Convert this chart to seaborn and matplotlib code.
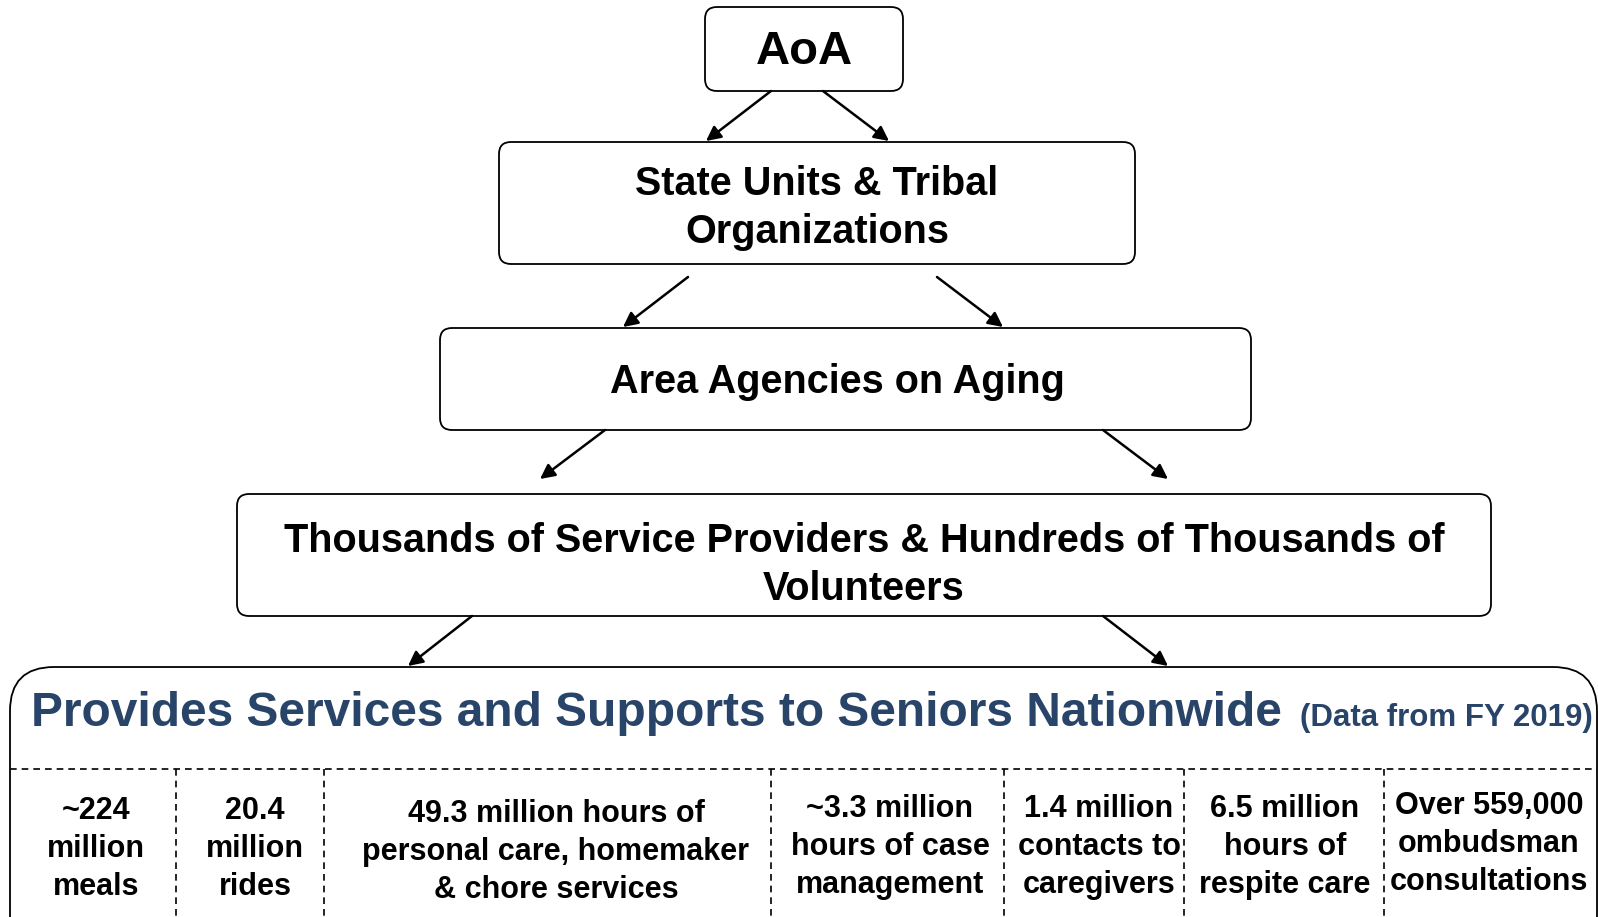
import matplotlib
matplotlib.use("Agg")
import matplotlib.pyplot as plt
import seaborn as sns
from matplotlib.patches import FancyBboxPatch

# 层级结构文字
box_labels = [
    "AoA",
    "State Units & Tribal\nOrganizations",
    "Area Agencies on Aging",
    "Thousands of Service Providers & Hundreds of Thousands of\nVolunteers",
]
title_main = "Provides Services and Supports to Seniors Nationwide"
title_note = "(Data from FY 2019)"

# 服务数据（FY 2019）
service_labels = [
    "~224\nmillion\nmeals",
    "20.4\nmillion\nrides",
    "49.3 million hours of\npersonal care, homemaker\n& chore services",
    "~3.3 million\nhours of case\nmanagement",
    "1.4 million\ncontacts to\ncaregivers",
    "6.5 million\nhours of\nrespite care",
    "Over 559,000\nombudsman\nconsultations",
]

# 布局（像素坐标，y 向下）
boxes = [  # x0, y0, x1, y1
    (705, 7, 903, 91),
    (499, 142, 1135, 264),
    (440, 328, 1251, 430),
    (237, 494, 1491, 616),
]
box_fs = [34, 28.5, 28.5, 28.5]
box_text_pos = [(804, 52), (817, 208), (837, 382), (864, 565)]
arrows = [  # 起点 -> 终点
    ((771, 91), (706, 141)), ((823, 91), (889, 141)),
    ((688, 277), (623, 327)), ((937, 277), (1003, 327)),
    ((605, 430), (540, 479)), ((1103, 430), (1168, 479)),
    ((472, 616), (408, 666)), ((1103, 616), (1168, 666)),
]
col_edges = [10, 176, 324, 771, 1004, 1184, 1384, 1597]
cell_centers = [96, 255, 556, 890, 1099, 1285, 1489]
cell_y = [849, 849, 852, 847, 847, 847, 844]

sns.set_theme(style="white")
plt.rcParams["font.family"] = ["Liberation Sans", "DejaVu Sans"]
plt.rcParams["text.color"] = "black"

W, H = 1598, 917
fig = plt.figure(figsize=(W / 100, H / 100), dpi=100)
ax = fig.add_axes([0, 0, 1, 1])
ax.set_xlim(0, W)
ax.set_ylim(H, 0)
ax.axis("off")

# 圆角方框
for (x0, y0, x1, y1), label, fs, (tx, ty) in zip(boxes, box_labels, box_fs, box_text_pos):
    r = 12
    ax.add_patch(FancyBboxPatch((x0 + r, y0 + r), x1 - x0 - 2 * r, y1 - y0 - 2 * r,
                                boxstyle=f"round,pad={r}", fc="white", ec="black", lw=1.3))
    ax.text(tx, ty, label, ha="center", va="center",
            fontsize=fs, fontweight="bold", linespacing=1.33)

# 箭头
for (x0, y0), (x1, y1) in arrows:
    ax.annotate("", xy=(x1, y1), xytext=(x0, y0),
                arrowprops=dict(arrowstyle="-|>", color="black", lw=1.8,
                                mutation_scale=22, shrinkA=0, shrinkB=0))

# 底部大框
r = 44
bx0, by0, bx1, by1 = 10, 667, 1597, 960
ax.add_patch(FancyBboxPatch((bx0 + r, by0 + r), bx1 - bx0 - 2 * r, by1 - by0 - 2 * r,
                            boxstyle=f"round,pad={r}", fc="white", ec="black", lw=1.3))
ax.text(31, 714, title_main, ha="left", va="center", fontsize=34.5,
        fontweight="bold", color="#294469")
ax.text(1593, 718, title_note, ha="right", va="center", fontsize=22.5,
        fontweight="bold", color="#294469")

# 虚线分隔
ax.plot([bx0, bx1], [769, 769], color="black", lw=1.2, ls=(0, (4, 3)))
for x in col_edges[1:-1]:
    ax.plot([x, x], [769, H + 5], color="black", lw=1.2, ls=(0, (4, 3)))

for label, cx, cy in zip(service_labels, cell_centers, cell_y):
    ax.text(cx, cy, label, ha="center", va="center", fontsize=22,
            fontweight="bold", linespacing=1.35)

fig.savefig("out.png", dpi=100)
